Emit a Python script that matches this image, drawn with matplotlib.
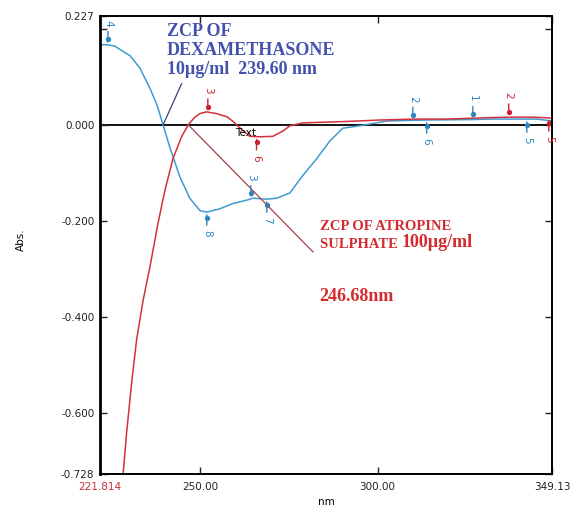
import numpy as np
import matplotlib
matplotlib.use('Agg')
import matplotlib.pyplot as plt
from matplotlib.transforms import offset_copy

# derivative spectra (nm, Abs.)
blue_nm = [221.814, 224.0, 226.0, 230.3, 233.1, 235.9, 237.8, 239.6, 241.5, 244.3, 247.1,
           250.0, 251.9, 255.6, 259.3, 263.2, 264.9, 268.8, 271.6, 275.3, 278.9, 282.9,
           286.5, 290.2, 295.0, 302.6, 313.8, 326.8, 332.4, 344.8, 349.13]
blue_abs = [0.167, 0.167, 0.164, 0.144, 0.118, 0.076, 0.043, 0.0, -0.047, -0.108, -0.153,
            -0.179, -0.182, -0.175, -0.164, -0.157, -0.153, -0.155, -0.153, -0.142, -0.106, -0.070,
            -0.034, -0.007, -0.002, 0.008, 0.010, 0.011, 0.012, 0.012, 0.008]

red_nm = [227.4, 228.37, 229.33, 230.74, 232.14, 233.1, 234.0, 235.9, 238.2, 240.1, 242.4, 244.8,
          246.68, 248.4, 249.96, 251.85, 254.6, 257.5, 259.3, 260.7, 264.0, 266.8, 270.5, 273.3,
          275.3, 277.2, 278.9, 291.2, 300.6, 309.9, 319.5, 331.6, 336.9, 343.7, 349.13]
red_abs = [-0.81, -0.726, -0.642, -0.538, -0.448, -0.405, -0.365, -0.296, -0.204, -0.137, -0.070, -0.025,
           0.0, 0.015, 0.0235, 0.027, 0.0235, 0.017, 0.007, -0.003, -0.024, -0.025, -0.024, -0.013,
           -0.002, 0.001, 0.004, 0.007, 0.010, 0.012, 0.012, 0.015, 0.016, 0.016, 0.014]

# peak picks: (nm, label, above curve?)
blue_peaks = [(224.07, '4', True), (251.9, '8', False), (264.3, '3', True), (268.8, '7', False),
              (309.9, '2', True), (313.8, '6', False), (326.8, '1', True), (342.0, '5', False)]
red_peaks = [(252.2, '3', True), (265.9, '6', False), (336.9, '2', True), (348.2, '5', False)]

xticks = [221.814, 250.0, 300.0, 349.13]
xtick_labels = ['221.814', '250.00', '300.00', '349.13']
yticks = [-0.728, -0.6, -0.4, -0.2, 0.0, 0.2, 0.227]
ytick_labels = ['-0.728', '-0.600', '-0.400', '-0.200', '0.000', '', '0.227']

blue_c = '#3f9ad0'
blue_mk = '#2b86c4'
red_c = '#d2303c'
serif = 'Liberation Serif'

fig = plt.figure(figsize=(5.71, 5.08), dpi=100)
ax = fig.add_axes([0.175, 0.067, 0.792, 0.9016])

ax.plot(blue_nm, blue_abs, color=blue_c, lw=1.1)
ax.plot(red_nm, red_abs, color=red_c, lw=1.1)
ax.axhline(0, color='black', lw=1.3, zorder=1)

ax.set_xlim(221.814, 349.13)
ax.set_ylim(-0.728, 0.227)
ax.set_xticks(xticks)
ax.set_xticklabels(xtick_labels)
ax.set_yticks(yticks)
ax.set_yticklabels(ytick_labels)
ax.tick_params(direction='in', top=True, right=True, length=5, width=1,
               labelsize=7.5, colors='#222222')
ax.tick_params(axis='x', pad=6)
ax.tick_params(axis='y', pad=4)
ax.get_xticklabels()[0].set_color('#c8303a')
for s in ax.spines.values():
    s.set_linewidth(1.4)
ax.spines['left'].set_linewidth(2)

fig.text(20.5 / 571, 1 - 240 / 508, 'Abs.', rotation=90, ha='center', va='center', fontsize=7.5)
fig.text(326 / 571, 1 - 502 / 508, 'nm', ha='center', va='center', fontsize=7.5)


def mark(x, xs, ys, label, color, above):
    y = np.interp(x, xs, ys)
    sgn = 1 if above else -1
    ax.annotate(label, xy=(x, y), xytext=(0, sgn * 13), textcoords='offset points',
                rotation=270, ha='center', va='bottom' if above else 'top',
                color=color, fontsize=7.5,
                arrowprops=dict(arrowstyle='-', color=color, lw=1.0, shrinkA=1.5, shrinkB=2))
    tr = offset_copy(ax.transData, fig=fig, x=0, y=sgn * 4, units='points')
    ax.plot([x], [y], 'o', ms=2.8, color=color, transform=tr)


for x, lab, up in blue_peaks:
    mark(x, blue_nm, blue_abs, lab, blue_mk, up)
for x, lab, up in red_peaks:
    mark(x, red_nm, red_abs, lab, '#cc2030', up)

ax.text(262.8, -0.018, 'Text', fontsize=7.5, ha='center', va='center')

# zero crossing call-outs
ax.plot([239.6, 244.8], [0.0, 0.0855], color='#34427e', lw=0.9)
ax.plot([246.68, 281.8], [0.0, -0.265], color='#a8404a', lw=0.9)

ax.text(240.6, 0.212, 'ZCP OF\nDEXAMETHASONE\n10\u00b5g/ml  239.60 nm', color='#4352ad',
        fontsize=13, fontweight='bold', family=serif, va='top', ha='left', linespacing=1.15)

red_t = '#d42a2e'
ax.text(283.7, -0.213, 'ZCP OF ATROPINE', color=red_t, fontsize=10.5, fontweight='bold',
        family=serif, va='center', ha='left')
t2 = ax.text(283.7, -0.257, 'SULPHATE ', color=red_t, fontsize=10.5, fontweight='bold',
             family=serif, va='baseline', ha='left')
ax.annotate('100\u00b5g/ml', xy=(1, 0), xycoords=t2, color=red_t, fontsize=13,
            fontweight='bold', family=serif, va='bottom', ha='left')
ax.text(283.7, -0.357, '246.68nm', color=red_t, fontsize=13, fontweight='bold',
        family=serif, va='center', ha='left')

fig.savefig('out.png', dpi=100)
